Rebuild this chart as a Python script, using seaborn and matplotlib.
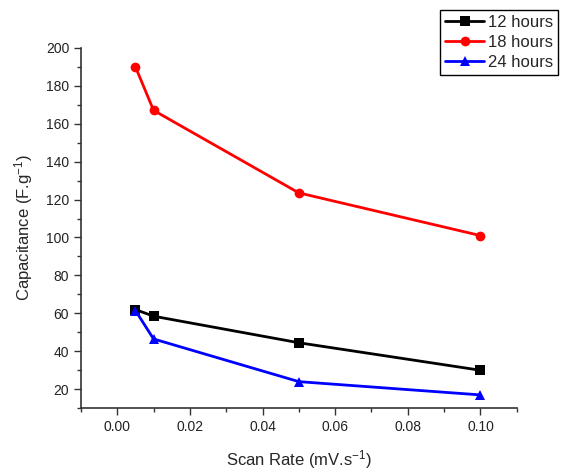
import matplotlib
matplotlib.use("Agg")
import matplotlib.pyplot as plt
import seaborn as sns
import pandas as pd
from matplotlib.ticker import MultipleLocator

scan_rate = [0.005, 0.01, 0.05, 0.10]
cap_12h = [62.0, 58.5, 44.5, 30.0]
cap_18h = [190.0, 167.0, 123.5, 101.0]
cap_24h = [61.5, 46.5, 24.0, 17.0]
series_names = ["12 hours", "18 hours", "24 hours"]

sns.set_theme(style="ticks")
plt.rcParams["font.family"] = ["Liberation Sans", "DejaVu Sans"]
plt.rcParams["mathtext.fontset"] = "custom"
plt.rcParams["mathtext.rm"] = "Liberation Sans"
plt.rcParams["mathtext.it"] = "Liberation Sans"

df = pd.DataFrame({
    "Scan Rate": scan_rate * 3,
    "Capacitance": cap_12h + cap_18h + cap_24h,
    "Series": [n for n in series_names for _ in scan_rate],
})

fig = plt.figure(figsize=(5.66, 4.73), dpi=100)
ax = fig.add_axes([0.143, 0.137, 0.770, 0.762])

sns.lineplot(
    data=df, x="Scan Rate", y="Capacitance", hue="Series", style="Series",
    palette={"12 hours": "black", "18 hours": "red", "24 hours": "blue"},
    markers={"12 hours": "s", "18 hours": "o", "24 hours": "^"},
    dashes=False, linewidth=2, markersize=7, markeredgewidth=0,
    ax=ax, legend=True,
)

ax.set_xlim(-0.01, 0.11)
ax.set_ylim(10, 200)
ax.xaxis.set_major_locator(MultipleLocator(0.02))
ax.xaxis.set_minor_locator(MultipleLocator(0.01))
ax.yaxis.set_major_locator(MultipleLocator(20))
ax.yaxis.set_minor_locator(MultipleLocator(10))
ax.set_yticks([20, 40, 60, 80, 100, 120, 140, 160, 180, 200])
ax.set_xticklabels([f"{t:.2f}" for t in ax.get_xticks()])
ax.tick_params(which="major", direction="out", length=5, width=1, labelsize=10, colors="#333333", labelcolor="#222222")
ax.tick_params(which="minor", direction="out", length=3, width=1, colors="#333333")
for side in ("top", "right"):
    ax.spines[side].set_visible(False)
for side in ("left", "bottom"):
    ax.spines[side].set_color("#333333")
    ax.spines[side].set_linewidth(1.2)

ax.set_xlabel("Scan Rate (mV.s$^{-1}$)", fontsize=12, labelpad=10)
ax.set_ylabel("Capacitance (F.g$^{-1}$)", fontsize=12, labelpad=8)

handles, labels = ax.get_legend_handles_labels()
ax.legend_.remove()
leg = fig.legend(
    handles, labels, loc="upper right", bbox_to_anchor=(0.986, 0.979),
    fontsize=12, frameon=True, fancybox=False, framealpha=1,
    edgecolor="black", borderpad=0.3, labelspacing=0.3,
    handlelength=2.3, handletextpad=0.25, borderaxespad=0,
)
leg.get_frame().set_linewidth(1.0)

fig.savefig("out.png", dpi=100)
